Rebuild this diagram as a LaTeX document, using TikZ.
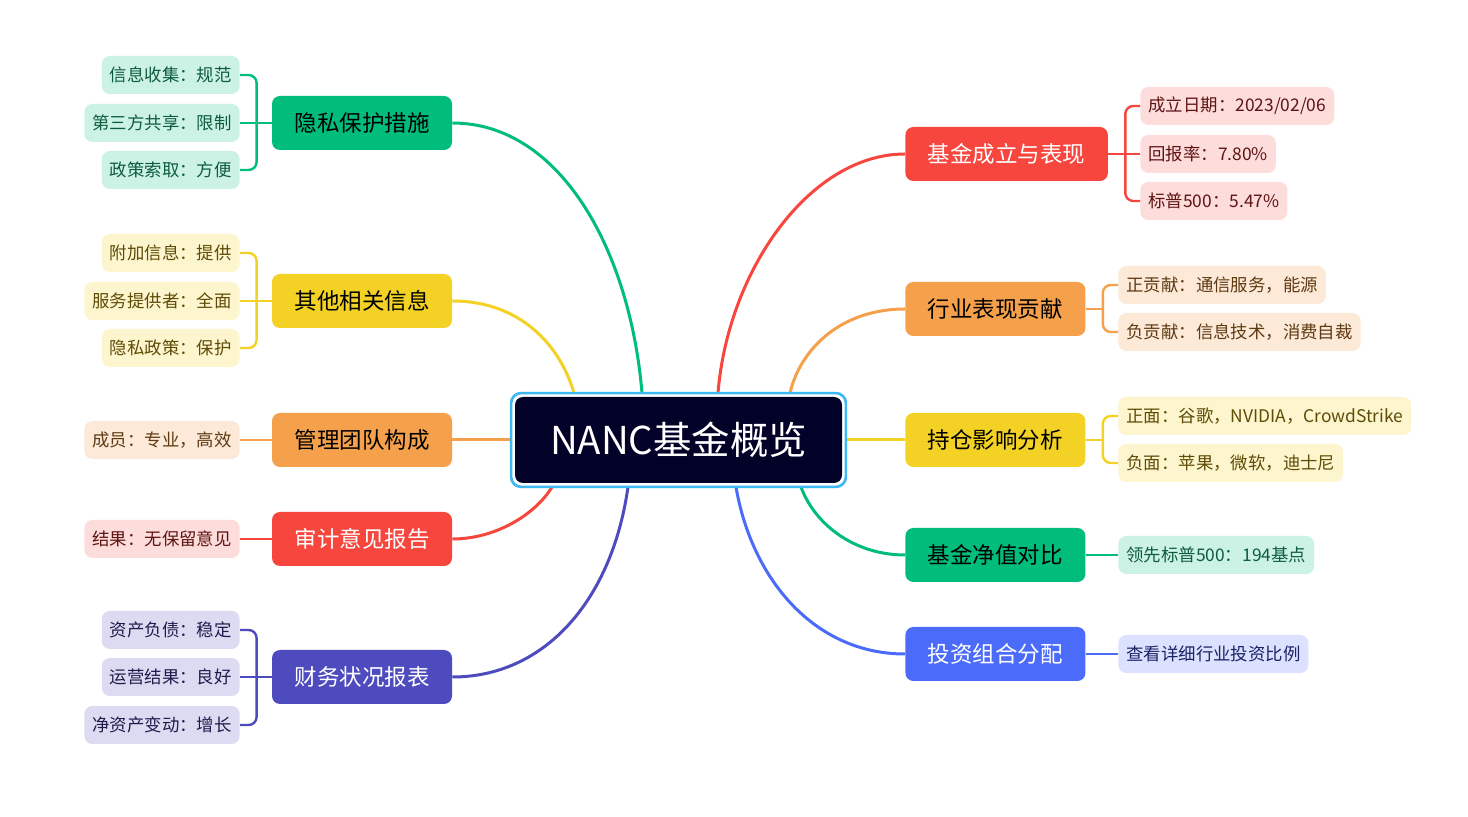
\documentclass[tikz,border=0pt]{standalone}
\usepackage{fontspec}
\setmainfont{Noto Sans CJK SC}
\usepackage{tikz}
\usetikzlibrary{
  positioning,
  calc,
}
\definecolor{navy}{HTML}{020128}
\definecolor{ring}{HTML}{3DB8F5}
\definecolor{green}{HTML}{00BD7C}
\definecolor{greenlt}{HTML}{CCF2E5}
\definecolor{greendk}{HTML}{0E5C3E}
\definecolor{yellow}{HTML}{F3D225}
\definecolor{yellowlt}{HTML}{FDF5CE}
\definecolor{yellowdk}{HTML}{5E4B06}
\definecolor{orange}{HTML}{F5A04B}
\definecolor{orangelt}{HTML}{FDE9D8}
\definecolor{orangedk}{HTML}{5E3A12}
\definecolor{red}{HTML}{F7463E}
\definecolor{redlt}{HTML}{FDDCDC}
\definecolor{reddk}{HTML}{5E1512}
\definecolor{purple}{HTML}{4E4BBE}
\definecolor{purplelt}{HTML}{DCDBF2}
\definecolor{purpledk}{HTML}{1F1C4D}
\definecolor{blue}{HTML}{4B6BFA}
\definecolor{bluelt}{HTML}{DBE1FE}
\definecolor{bluedk}{HTML}{1A2366}
\tikzset{
  hub/.style={
    fill=navy,
    rounded corners=4pt,
    minimum width=163.5pt,
    minimum height=43pt,
    inner sep=0pt,
    text=white,
    font=\fontsize{19.2}{21}\selectfont,
  },
  topic/.style={
    fill=#1,
    rounded corners=4pt,
    minimum height=27pt,
    inner xsep=11.25pt,
    inner ysep=0pt,
    font=\fontsize{11.25}{13}\selectfont,
  },
  leaf/.style={
    fill=#1,
    rounded corners=4pt,
    minimum height=19pt,
    inner xsep=4pt,
    inner ysep=0pt,
    font=\fontsize{8.7}{10}\selectfont,
  },
  link/.style={draw=#1, line width=1.5pt},
  twig/.style={draw=#1, line width=1.2pt, rounded corners=4pt},
}

\begin{document}
\begin{tikzpicture}[x=0.5pt,y=-0.5pt]
  \fill[white] (0,0) rectangle (1468,817);
  \useasboundingbox (0,0) rectangle (1468,817);

  % centre
  \node[hub] (ctr) at (678.5,440) {NANC基金概览};

  % left topics
  \node[topic=green] (pri) at (362,123) {隐私保护措施};
  \node[topic=yellow] (oth) at (362,301) {其他相关信息};
  \node[topic=orange] (team) at (362,440) {管理团队构成};
  \node[topic=red, text=white] (audit) at (362,539) {审计意见报告};
  \node[topic=purple, text=white] (fin) at (362,677) {财务状况报表};

  % right topics
  \node[topic=red, text=white, anchor=west] (perf) at (905,154) {基金成立与表现};
  \node[topic=orange, anchor=west] (ind) at (905,309) {行业表现贡献};
  \node[topic=yellow, anchor=west] (hold) at (905,440) {持仓影响分析};
  \node[topic=green, anchor=west] (nav) at (905,555) {基金净值对比};
  \node[topic=blue, text=white, anchor=west] (port) at (905,654) {投资组合分配};

  % left leaves
  \foreach \n/\y/\t in {pri1/75/信息收集：规范, pri2/123/第三方共享：限制, pri3/170/政策索取：方便}
    \node[leaf=greenlt, text=greendk, anchor=east] (\n) at (240,\y) {\t};
  \foreach \n/\y/\t in {oth1/253/附加信息：提供, oth2/301/服务提供者：全面, oth3/348/隐私政策：保护}
    \node[leaf=yellowlt, text=yellowdk, anchor=east] (\n) at (240,\y) {\t};
  \node[leaf=orangelt, text=orangedk, anchor=east] (team1) at (240,440) {成员：专业，高效};
  \node[leaf=redlt, text=reddk, anchor=east] (audit1) at (240,539) {结果：无保留意见};
  \foreach \n/\y/\t in {fin1/630/资产负债：稳定, fin2/677/运营结果：良好, fin3/725/净资产变动：增长}
    \node[leaf=purplelt, text=purpledk, anchor=east] (\n) at (240,\y) {\t};

  % right leaves
  \foreach \n/\y/\t in {perf1/106/{成立日期：2023/02/06}, perf2/154/{回报率：7.80\%}, perf3/201/{标普500：5.47\%}}
    \node[leaf=redlt, text=reddk, anchor=west] (\n) at (1140,\y) {\t};
  \foreach \n/\y/\t in {ind1/285/正贡献：通信服务，能源, ind2/332/负贡献：信息技术，消费自裁}
    \node[leaf=orangelt, text=orangedk, anchor=west] (\n) at (1118,\y) {\t};
  \foreach \n/\y/\t in {hold1/416/正面：谷歌，NVIDIA，CrowdStrike, hold2/463/负面：苹果，微软，迪士尼}
    \node[leaf=yellowlt, text=yellowdk, anchor=west] (\n) at (1118,\y) {\t};
  \node[leaf=greenlt, text=greendk, anchor=west] (nav1) at (1118,555) {领先标普500：194基点};
  \node[leaf=bluelt, text=bluedk, anchor=west] (port1) at (1118,654) {查看详细行业投资比例};

  % ends on the ring
  \coordinate (cpri) at (642,393);
  \coordinate (coth) at (574,393);
  \coordinate (cteam) at (511,440);
  \coordinate (caudit) at (552,487);
  \coordinate (cfin) at (628,487);
  \coordinate (cperf) at (718,393);
  \coordinate (cind) at (790,393);
  \coordinate (chold) at (846,440);
  \coordinate (cnav) at (801,487);
  \coordinate (cport) at (736,487);

  % main links
  \draw[link=green] (pri.east) .. controls (560,123) and (630,250) .. (cpri);
  \draw[link=yellow] (oth.east) .. controls (520,301) and (560,345) .. (coth);
  \draw[link=orange] (team.east) -- (cteam);
  \draw[link=red] (audit.east) .. controls (495,539) and (535,515) .. (caudit);
  \draw[link=purple] (fin.east) .. controls (545,677) and (612,600) .. (cfin);
  \draw[link=red] (perf.west) .. controls (810,154) and (728,270) .. (cperf);
  \draw[link=orange] (ind.west) .. controls (840,309) and (800,350) .. (cind);
  \draw[link=yellow] (hold.west) -- (chold);
  \draw[link=green] (nav.west) .. controls (855,555) and (815,525) .. (cnav);
  \draw[link=blue] (port.west) .. controls (815,654) and (752,580) .. (cport);

  % ring
  \draw[ring, line width=1.3pt, rounded corners=5pt]
    ([shift={(-3.5,3.5)}]ctr.south west) rectangle ([shift={(3.5,-3.5)}]ctr.north east);

  % left brackets
  \coordinate (pb) at ([xshift=-7.5pt]pri.west);
  \draw[twig=green] (pri.west) -- (pri2.east);
  \foreach \n in {pri1,pri3} \draw[twig=green] (pb) |- (\n.east);
  \coordinate (ob) at ([xshift=-7.5pt]oth.west);
  \draw[twig=yellow] (oth.west) -- (oth2.east);
  \foreach \n in {oth1,oth3} \draw[twig=yellow] (ob) |- (\n.east);
  \draw[twig=orange] (team.west) -- (team1.east);
  \draw[twig=red] (audit.west) -- (audit1.east);
  \coordinate (fb) at ([xshift=-7.5pt]fin.west);
  \draw[twig=purple] (fin.west) -- (fin2.east);
  \foreach \n in {fin1,fin3} \draw[twig=purple] (fb) |- (\n.east);

  % right brackets
  \coordinate (rb) at ([xshift=8.5pt]perf.east);
  \draw[twig=red] (perf.east) -- (perf2.west);
  \foreach \n in {perf1,perf3} \draw[twig=red] (rb) |- (\n.west);
  \coordinate (ib) at ([xshift=8.5pt]ind.east);
  \draw[twig=orange] (ind.east) -- (ib);
  \foreach \n in {ind1,ind2} \draw[twig=orange] (ib) |- (\n.west);
  \coordinate (hb) at ([xshift=8.5pt]hold.east);
  \draw[twig=yellow] (hold.east) -- (hb);
  \foreach \n in {hold1,hold2} \draw[twig=yellow] (hb) |- (\n.west);
  \draw[twig=green] (nav.east) -- (nav1.west);
  \draw[twig=blue] (port.east) -- (port1.west);
\end{tikzpicture}
\end{document}
